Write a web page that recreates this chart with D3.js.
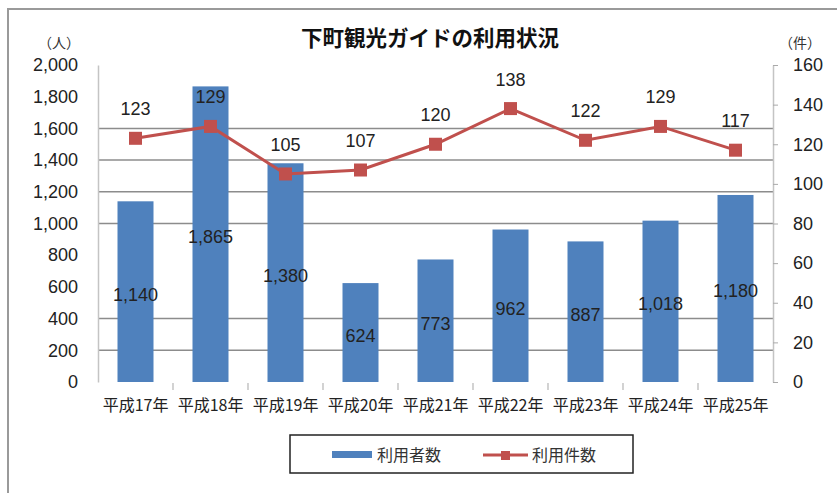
<!DOCTYPE html>
<html>
<head>
<meta charset="utf-8">
<script src="https://cdn.jsdelivr.net/npm/d3@7"></script>
<style>
  html, body { margin: 0; padding: 0; background: #fff; }
  svg { display: block; }
</style>
</head>
<body>
<svg id="chart" width="837" height="493"></svg>
<script>
// 下町観光ガイドの利用状況 (平成17年〜平成25年)
const categories = ["平成17年", "平成18年", "平成19年", "平成20年", "平成21年", "平成22年", "平成23年", "平成24年", "平成25年"];
const users = [1140, 1865, 1380, 624, 773, 962, 887, 1018, 1180];   // 利用者数（人）
const cases = [123, 129, 105, 107, 120, 138, 122, 129, 117];        // 利用件数（件）
const leftTicks = [0, 200, 400, 600, 800, 1000, 1200, 1400, 1600, 1800, 2000];
const rightTicks = [0, 20, 40, 60, 80, 100, 120, 140, 160];
const gridValues = [200, 400, 1000, 1200, 1400, 1600];

const svg = d3.select("#chart");
const numFont = "'Liberation Sans', Arial, sans-serif";
const jpFont = "'Noto Sans CJK JP', 'Noto Sans', sans-serif";

const plot = { left: 98, right: 773, top: 65, bottom: 382 };

const x = d3.scaleBand().domain(categories).range([plot.left, plot.right]).paddingInner(0.52).paddingOuter(0.26);
const xBand = d3.scaleBand().domain(categories).range([plot.left, plot.right]);
const yL = d3.scaleLinear().domain([0, 2000]).range([plot.bottom, plot.top]);
const yR = d3.scaleLinear().domain([0, 160]).range([plot.bottom, plot.top]);

// outer chart frame
svg.append("rect")
  .attr("x", 8).attr("y", 9).attr("width", 900).attr("height", 600)
  .attr("fill", "none").attr("stroke", "#9a9a9a").attr("stroke-width", 2);

// title
svg.append("text")
  .attr("x", 430).attr("y", 46)
  .attr("text-anchor", "middle")
  .attr("font-family", jpFont).attr("font-weight", "bold").attr("font-size", 21.5)
  .attr("fill", "#111")
  .text("下町観光ガイドの利用状況");

// unit labels
svg.append("text").attr("x", 59).attr("y", 48).attr("text-anchor", "middle")
  .attr("font-family", jpFont).attr("font-size", 14).attr("fill", "#333").text("（人）");
svg.append("text").attr("x", 800).attr("y", 48).attr("text-anchor", "middle")
  .attr("font-family", jpFont).attr("font-size", 14).attr("fill", "#333").text("（件）");

// horizontal gridlines
svg.append("g").selectAll("line").data(gridValues).join("line")
  .attr("x1", plot.left).attr("x2", plot.right)
  .attr("y1", d => yL(d)).attr("y2", d => yL(d))
  .attr("stroke", "#8c8c8c").attr("stroke-width", 1.5);

// left axis
const leftAxis = svg.append("g").attr("transform", `translate(${plot.left},0)`)
  .call(d3.axisLeft(yL).tickValues(leftTicks).tickSize(0).tickPadding(20).tickFormat(d3.format(",")));
leftAxis.select(".domain").attr("stroke", "#c4c4c4").attr("stroke-width", 1.5);
leftAxis.selectAll("text").attr("font-family", numFont).attr("font-size", 18).attr("fill", "#222");

// right axis
const rightAxis = svg.append("g").attr("transform", `translate(${plot.right},0)`)
  .call(d3.axisRight(yR).tickValues(rightTicks).tickSize(5).tickPadding(15).tickSizeOuter(0));
rightAxis.select(".domain").attr("stroke", "#c4c4c4").attr("stroke-width", 1.5);
rightAxis.selectAll(".tick line").attr("stroke", "#aaa");
rightAxis.selectAll("text").attr("font-family", numFont).attr("font-size", 18).attr("fill", "#222");

// category axis
const xAxis = svg.append("g").attr("transform", `translate(0,${plot.bottom})`)
  .call(d3.axisBottom(x).tickSize(0).tickPadding(18));
xAxis.select(".domain").remove();
xAxis.selectAll("text").attr("font-family", jpFont).attr("font-size", 16).attr("fill", "#222");
svg.append("g").selectAll("line").data(categories.slice(1)).join("line")
  .attr("x1", d => xBand(d)).attr("x2", d => xBand(d))
  .attr("y1", plot.bottom + 1).attr("y2", plot.bottom + 8)
  .attr("stroke", "#b5b5b5").attr("stroke-width", 1.2);

// bars: 利用者数
svg.append("g").selectAll("rect").data(users).join("rect")
  .attr("x", (d, i) => x(categories[i]))
  .attr("y", d => yL(d))
  .attr("width", x.bandwidth())
  .attr("height", d => yL(0) - yL(d))
  .attr("fill", "#4f81bd");

svg.append("g").selectAll("text").data(users).join("text")
  .attr("x", (d, i) => x(categories[i]) + x.bandwidth() / 2)
  .attr("y", d => (yL(d) + yL(0)) / 2 + 9)
  .attr("text-anchor", "middle")
  .attr("font-family", numFont).attr("font-size", 18).attr("fill", "#222")
  .text(d => d3.format(",")(d));

// line: 利用件数
const cx = i => x(categories[i]) + x.bandwidth() / 2;
const line = d3.line().x((d, i) => cx(i)).y(d => yR(d));
svg.append("path").datum(cases)
  .attr("d", line).attr("fill", "none")
  .attr("stroke", "#c0504d").attr("stroke-width", 3);

const mk = 13;
svg.append("g").selectAll("rect").data(cases).join("rect")
  .attr("x", (d, i) => cx(i) - mk / 2)
  .attr("y", d => yR(d) - mk / 2)
  .attr("width", mk).attr("height", mk)
  .attr("fill", "#c0504d");

svg.append("g").selectAll("text").data(cases).join("text")
  .attr("x", (d, i) => cx(i))
  .attr("y", d => yR(d) - 23)
  .attr("text-anchor", "middle")
  .attr("font-family", numFont).attr("font-size", 18).attr("fill", "#222")
  .text(d => d);

// legend
const lg = svg.append("g");
lg.append("rect").attr("x", 290).attr("y", 435).attr("width", 343).attr("height", 38)
  .attr("fill", "#fff").attr("stroke", "#222").attr("stroke-width", 1.5);
lg.append("rect").attr("x", 332).attr("y", 451).attr("width", 40).attr("height", 7).attr("fill", "#4f81bd");
lg.append("text").attr("x", 377).attr("y", 461).attr("font-family", jpFont).attr("font-size", 16)
  .attr("fill", "#333").text("利用者数");
lg.append("line").attr("x1", 483).attr("x2", 528).attr("y1", 455).attr("y2", 455)
  .attr("stroke", "#c0504d").attr("stroke-width", 3);
lg.append("rect").attr("x", 501).attr("y", 451).attr("width", 9).attr("height", 9).attr("fill", "#c0504d");
lg.append("text").attr("x", 532).attr("y", 461).attr("font-family", jpFont).attr("font-size", 16)
  .attr("fill", "#333").text("利用件数");
</script>
</body>
</html>
